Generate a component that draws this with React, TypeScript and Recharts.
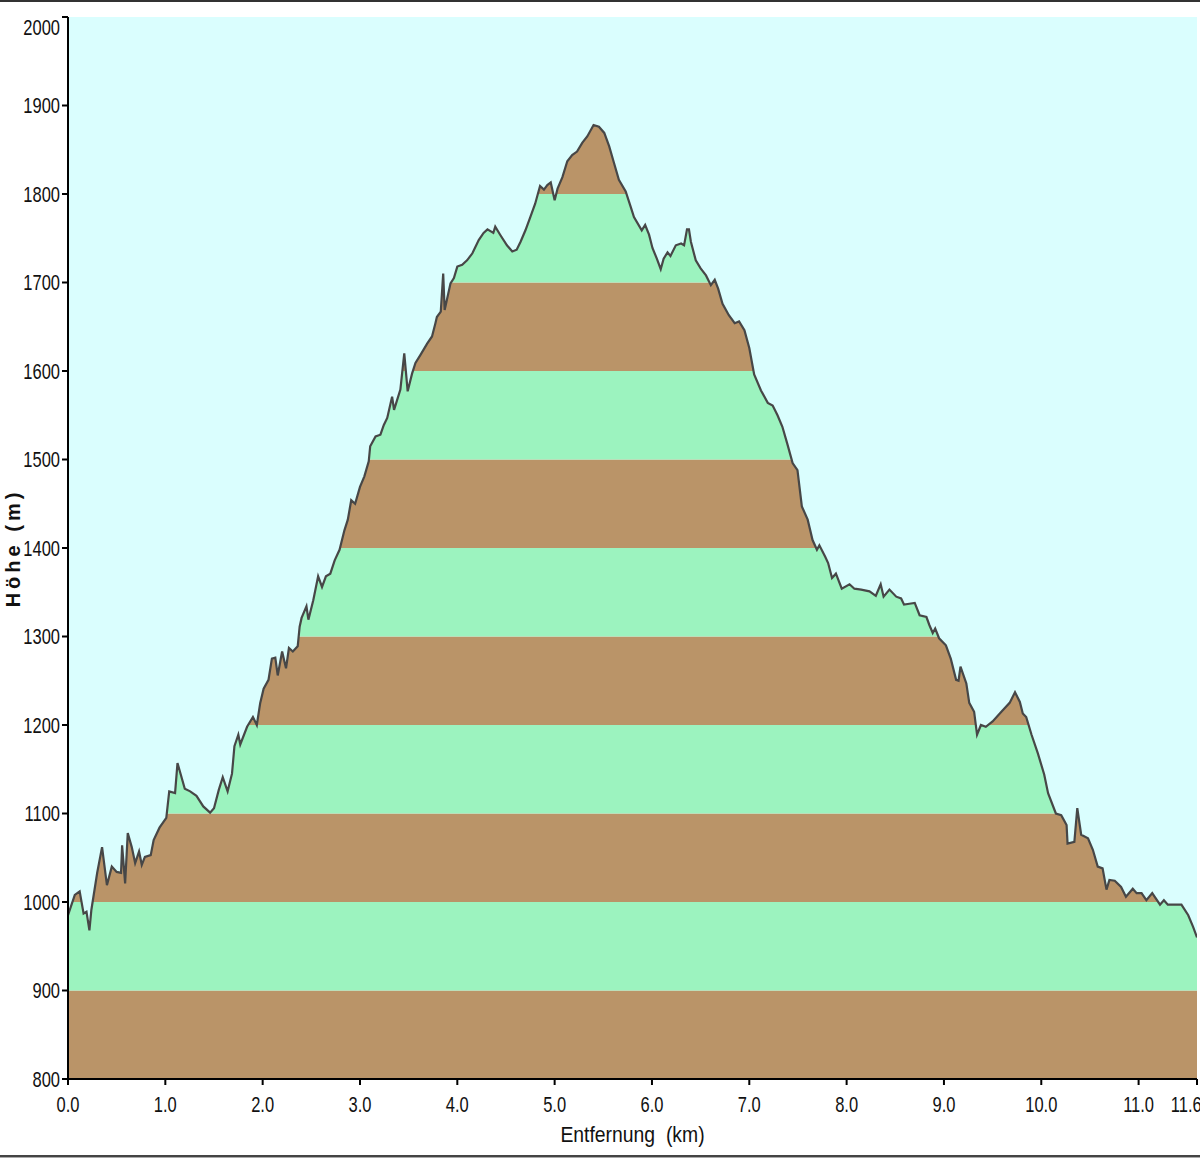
import React from "react";
import {
  ComposedChart,
  Area,
  Line,
  XAxis,
  YAxis,
} from "recharts";

// distance (km) / elevation (m)
const dist = [
  0.0, 0.07, 0.12, 0.16, 0.19, 0.22, 0.24, 0.3, 0.35, 0.4, 0.45, 0.5, 0.545, 0.556, 0.587, 0.614, 0.655, 0.69, 0.73,
  0.758, 0.79, 0.85, 0.88, 0.94, 1.01, 1.04, 1.1, 1.125, 1.2, 1.255, 1.32, 1.39, 1.46, 1.5, 1.55, 1.59, 1.64, 1.685,
  1.71, 1.75, 1.77, 1.84, 1.9, 1.94, 1.975, 2.01, 2.06, 2.095, 2.13, 2.155, 2.2, 2.24, 2.27, 2.31, 2.36, 2.38, 2.4,
  2.45, 2.47, 2.52, 2.57, 2.61, 2.65, 2.695, 2.74, 2.79, 2.84, 2.875, 2.91, 2.95, 3.0, 3.045, 3.09, 3.105, 3.16, 3.21,
  3.245, 3.28, 3.33, 3.35, 3.415, 3.455, 3.49, 3.535, 3.57, 3.62, 3.69, 3.74, 3.775, 3.79, 3.83, 3.855, 3.87, 3.93,
  3.965, 4.0, 4.05, 4.1, 4.155, 4.22, 4.27, 4.31, 4.37, 4.39, 4.44, 4.51, 4.565, 4.61, 4.65, 4.7, 4.75, 4.8, 4.85,
  4.89, 4.925, 4.96, 5.0, 5.03, 5.08, 5.13, 5.18, 5.23, 5.285, 5.335, 5.4, 5.455, 5.51, 5.56, 5.61, 5.66, 5.73, 5.78,
  5.815, 5.895, 5.93, 5.97, 6.005, 6.05, 6.09, 6.12, 6.16, 6.19, 6.245, 6.3, 6.33, 6.36, 6.38, 6.4, 6.45, 6.5, 6.555,
  6.605, 6.645, 6.68, 6.725, 6.79, 6.85, 6.895, 6.95, 7.0, 7.05, 7.12, 7.19, 7.24, 7.29, 7.34, 7.39, 7.445, 7.495,
  7.54, 7.6, 7.65, 7.695, 7.72, 7.78, 7.81, 7.85, 7.89, 7.95, 8.03, 8.08, 8.15, 8.235, 8.3, 8.35, 8.38, 8.44, 8.51,
  8.56, 8.59, 8.645, 8.7, 8.75, 8.82, 8.85, 8.885, 8.91, 8.95, 9.02, 9.07, 9.125, 9.15, 9.17, 9.23, 9.26, 9.31, 9.34,
  9.38, 9.43, 9.5, 9.59, 9.675, 9.73, 9.78, 9.81, 9.845, 9.9, 9.965, 10.03, 10.07, 10.15, 10.205, 10.26, 10.27, 10.34,
  10.37, 10.41, 10.48, 10.53, 10.58, 10.63, 10.67, 10.7, 10.755, 10.82, 10.87, 10.94, 10.98, 11.03, 11.08, 11.14,
  11.22, 11.26, 11.3, 11.44, 11.51, 11.56, 11.6,
];

const elev = [
  985, 1008, 1012, 987, 989, 968, 991, 1033, 1062, 1019, 1040, 1034, 1033, 1064, 1021, 1078, 1062, 1044, 1057,
  1042, 1051, 1053, 1070, 1084, 1095, 1125, 1123, 1157, 1128, 1125, 1120, 1108, 1101, 1106, 1127, 1141, 1125, 1145,
  1176, 1189, 1178, 1198, 1209, 1200, 1225, 1241, 1251, 1275, 1276, 1256, 1283, 1264, 1287, 1283, 1289, 1311, 1321,
  1334, 1319, 1341, 1368, 1356, 1368, 1371, 1386, 1398, 1420, 1432, 1454, 1450, 1469, 1481, 1498, 1515, 1526, 1528,
  1539, 1547, 1571, 1556, 1579, 1620, 1577, 1597, 1609, 1618, 1631, 1639, 1654, 1661, 1667, 1710, 1669, 1699,
  1705, 1718, 1720, 1725, 1733, 1748, 1756, 1760, 1756, 1763, 1754, 1742, 1735, 1737, 1746, 1759, 1774, 1789, 1809,
  1805, 1810, 1813, 1793, 1806, 1819, 1837, 1844, 1848, 1858, 1865, 1878, 1876, 1869, 1854, 1835, 1816, 1803, 1786,
  1774, 1759, 1765, 1754, 1739, 1727, 1715, 1727, 1734, 1730, 1742, 1744, 1742, 1760, 1760, 1746, 1725, 1716, 1708,
  1697, 1703, 1693, 1676, 1663, 1654, 1656, 1646, 1626, 1596, 1578, 1564, 1561, 1550, 1537, 1518, 1496, 1488,
  1447, 1432, 1409, 1398, 1403, 1390, 1383, 1366, 1371, 1354, 1359, 1354, 1353, 1351, 1346, 1359, 1345, 1353, 1345,
  1343, 1336, 1337, 1338, 1324, 1322, 1313, 1304, 1309, 1298, 1290, 1275, 1251, 1250, 1266, 1247, 1225, 1215, 1189,
  1200, 1198, 1204, 1215, 1225, 1237, 1226, 1213, 1209, 1189, 1168, 1144, 1123, 1100, 1098, 1087, 1066, 1068,
  1106, 1076, 1072, 1059, 1040, 1038, 1014, 1025, 1024, 1017, 1006, 1015, 1010, 1010, 1002, 1010,
  997, 1002, 997, 997, 985, 972, 960,
];

const xTicks = [0, 1, 2, 3, 4, 5, 6, 7, 8, 9, 10, 11, 11.6];
const yTicks = [800, 900, 1000, 1100, 1200, 1300, 1400, 1500, 1600, 1700, 1800, 1900, 2000];

// 100 m colour bands, from the bottom up
const bandLows = [800, 900, 1000, 1100, 1200, 1300, 1400, 1500, 1600, 1700, 1800];
const bandColors = ["#ba9468", "#9cf3bf"];

const SKY = "#dafefe";
const FONT = "'Liberation Sans', Arial, sans-serif";
// the original labels use a condensed face; squeeze the regular one
const SQUEEZE = 0.75;
const TICK_SIZE = 22;

const data = dist.map((d, i) => ({ dist: d, elev: elev[i], sky: [elev[i], 2000] }));

function YTick(props: any) {
  const { x, y, payload } = props;
  const shift = payload.value === 2000 ? 10 : 0;
  return (
    <g transform={`translate(${x},${y + shift}) scale(${SQUEEZE},1)`}>
      <text x={0} y={0} dy="0.355em" textAnchor="end" fill="#111" fontSize={TICK_SIZE} fontFamily={FONT}>
        {payload.value}
      </text>
    </g>
  );
}

function XTick(props: any) {
  const { x, y, payload } = props;
  return (
    <g transform={`translate(${x},${y}) scale(${SQUEEZE},1)`}>
      <text x={0} y={0} dy="0.71em" textAnchor="middle" fill="#111" fontSize={TICK_SIZE} fontFamily={FONT}>
        {Number(payload.value).toFixed(1)}
      </text>
    </g>
  );
}

export default function App() {
  return (
    <div style={{ position: "absolute", left: 0, top: 0, width: 1200, height: 1160, background: "#fff" }}>
      <div style={{ position: "absolute", left: 0, top: 0, width: 1200, height: 0, borderTop: "2px solid #333" }} />
      <div style={{ position: "absolute", left: 0, top: 1155, width: 1200, height: 0, borderTop: "2px solid #444", borderBottom: "1px solid #aaa" }} />
      <ComposedChart
        width={1200}
        height={1160}
        data={data}
        margin={{ top: 17, right: 3, left: 0, bottom: 31 }}
      >
        <XAxis
          dataKey="dist"
          type="number"
          domain={[0, 11.6]}
          ticks={xTicks}
          allowDataOverflow
          height={50}
          tickSize={6}
          tickMargin={11}
          tick={<XTick />}
          axisLine={{ stroke: "#000", strokeWidth: 2 }}
          tickLine={{ stroke: "#000", strokeWidth: 2 }}
          label={{
            content: (p: any) => {
              const vb = p.viewBox;
              const cx = vb.x + vb.width / 2;
              const cy = vb.y + 63;
              return (
                <g transform={`translate(${cx},${cy}) scale(0.88,1)`}>
                  <text
                    x={0}
                    y={0}
                    textAnchor="middle"
                    fill="#111"
                    fontSize={22}
                    fontFamily={FONT}
                    style={{ whiteSpace: "pre" }}
                  >
                    {"Entfernung  (km)"}
                  </text>
                </g>
              );
            },
          }}
        />
        <XAxis
          xAxisId="top"
          orientation="top"
          type="number"
          domain={[0, 11.6]}
          height={0}
          tick={false}
          tickLine={false}
          axisLine={{ stroke: "#000", strokeWidth: 2 }}
        />
        <YAxis
          type="number"
          domain={[800, 2000]}
          ticks={yTicks}
          allowDataOverflow
          width={68}
          tickSize={6}
          tickMargin={2}
          tick={<YTick />}
          axisLine={{ stroke: "#000", strokeWidth: 2 }}
          tickLine={{ stroke: "#000", strokeWidth: 2 }}
          label={{
            content: (p: any) => {
              const vb = p.viewBox;
              const cx = 13;
              const cy = vb.y + vb.height / 2;
              return (
                <text
                  x={cx}
                  y={cy}
                  transform={`rotate(-90 ${cx} ${cy})`}
                  textAnchor="middle"
                  dominantBaseline="central"
                  fill="#111"
                  fontSize={20}
                  fontWeight="bold"
                  letterSpacing={4}
                  fontFamily={FONT}
                  style={{ whiteSpace: "pre" }}
                >
                  {"Höhe (m)"}
                </text>
              );
            },
          }}
        />
        <YAxis
          yAxisId="right"
          orientation="right"
          type="number"
          domain={[800, 2000]}
          width={0}
          tick={false}
          tickLine={false}
          axisLine={{ stroke: "#000", strokeWidth: 2 }}
        />
        {bandLows.map((lo, i) => (
          <Area
            key={lo}
            type="linear"
            dataKey={() => [lo, lo + 100]}
            fill={bandColors[i % 2]}
            fillOpacity={1}
            stroke="none"
            isAnimationActive={false}
          />
        ))}
        <Area
          type="linear"
          dataKey="sky"
          fill={SKY}
          fillOpacity={1}
          stroke="none"
          isAnimationActive={false}
        />
        <Line
          type="linear"
          dataKey="elev"
          stroke="#474747"
          strokeWidth={2.2}
          dot={false}
          activeDot={false}
          isAnimationActive={false}
        />
      </ComposedChart>
    </div>
  );
}
